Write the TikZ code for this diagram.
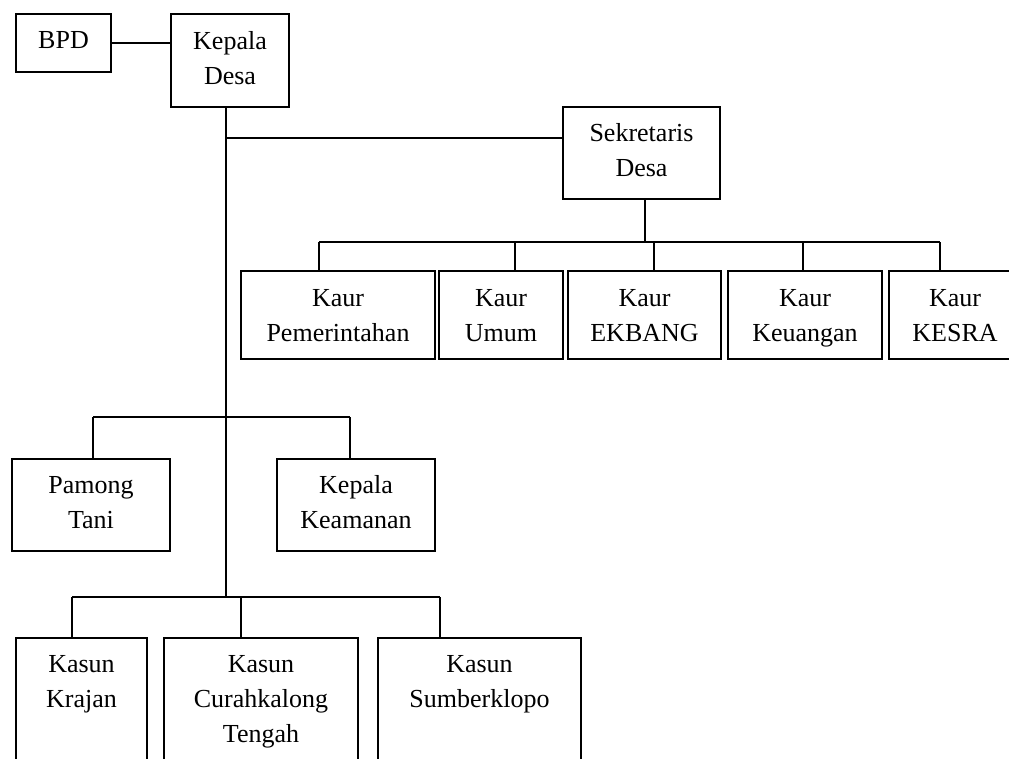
\documentclass[tikz,border=0pt]{standalone}
\usepackage{fontspec}
\setmainfont{Liberation Serif}
\usetikzlibrary{calc}
\newcommand{\kaurtop}{\rule{0pt}{24pt}}
\tikzset{
  box/.style={draw, line width=1.6pt, inner sep=0pt, align=center,
    font=\fontsize{26}{35}\selectfont,
    execute at end node={\rule[-6pt]{0pt}{6pt}}},
  kaurbox/.style={box, minimum height=88pt},
  boxcut/.style={draw, line width=1.6pt, inner sep=0pt},
  txt/.style={inner sep=0pt, align=center, font=\fontsize{26}{35}\selectfont},
  link/.style={line width=1.6pt}
}
\begin{document}
\begin{tikzpicture}[x=1pt,y=-1pt]
\useasboundingbox (0,0) rectangle (1009,758);
\clip (0,0) rectangle (1009,758);
% top
\node[box, minimum width=95pt, minimum height=58pt] (bpd) at (63.5,43) {BPD};
\node[box, minimum width=118pt, minimum height=93pt] (kd) at (230,60.5) {Kepala\\Desa};
\node[box, minimum width=157pt, minimum height=92pt] (sek) at (641.5,153) {Sekretaris\\Desa};
% kaur
\node[kaurbox, minimum width=194pt] (pem) at (338,315) {\kaurtop Kaur\\Pemerintahan};
\node[kaurbox, minimum width=124pt] (umum) at (501,315) {\kaurtop Kaur\\Umum};
\node[kaurbox, minimum width=153pt] (ekb) at (644.5,315) {\kaurtop Kaur\\EKBANG};
\node[kaurbox, minimum width=154pt] (keu) at (805,315) {\kaurtop Kaur\\Keuangan};
\node[kaurbox, minimum width=132pt] (kesra) at (955,315) {\kaurtop Kaur\\KESRA};
% middle
\node[box, minimum width=158pt, minimum height=92pt] (pam) at (91,505) {Pamong\\Tani};
\node[box, minimum width=158pt, minimum height=92pt] (kam) at (356,505) {Kepala\\Keamanan};
% kasun boxes (cut by the lower edge)
\node[boxcut, minimum width=131pt, minimum height=200pt] (kra) at (81.5,738) {};
\node[boxcut, minimum width=194pt, minimum height=200pt] (cur) at (261,738) {};
\node[boxcut, minimum width=203pt, minimum height=200pt] (sum) at (479.5,738) {};
\node[txt, anchor=north] (kratxt) at ($(kra.north)+(0,18)$) {Kasun\\Krajan};
\node[txt, anchor=north] (curtxt) at ($(cur.north)+(0,18)$) {Kasun\\Curahkalong\\Tengah};
\node[txt, anchor=north] (sumtxt) at ($(sum.north)+(0,18)$) {Kasun\\Sumberklopo};
% junctions
\coordinate (jsek) at (226,138);
\coordinate (tb) at (226,597);
\coordinate (ksek) at (645,242);
\coordinate (kpem) at (319,242);
\coordinate (kumum) at (515,242);
\coordinate (kekb) at (654,242);
\coordinate (kkeu) at (803,242);
\coordinate (kkesra) at (940,242);
\coordinate (jpam) at (93,417);
\coordinate (jkam) at (350,417);
\coordinate (jkra) at (72,597);
\coordinate (jcur) at (241,597);
\coordinate (jsum) at (440,597);
% connectors
\draw[link] (bpd.east) -- (bpd.east -| kd.west);
\draw[link] (kd.south -| tb) -- (tb);
\draw[link] (jsek) -- (jsek -| sek.west);
\draw[link] (ksek |- sek.south) -- (ksek);
\draw[link] (kpem) -- (kkesra);
\draw[link] (kpem) -- (kpem |- pem.north);
\draw[link] (kumum) -- (kumum |- umum.north);
\draw[link] (kekb) -- (kekb |- ekb.north);
\draw[link] (kkeu) -- (kkeu |- keu.north);
\draw[link] (kkesra) -- (kkesra |- kesra.north);
\draw[link] (jpam) -- (jkam);
\draw[link] (jpam) -- (jpam |- pam.north);
\draw[link] (jkam) -- (jkam |- kam.north);
\draw[link] (jkra) -- (jsum);
\draw[link] (jkra) -- (jkra |- kra.north);
\draw[link] (jcur) -- (jcur |- cur.north);
\draw[link] (jsum) -- (jsum |- sum.north);
\end{tikzpicture}
\end{document}
